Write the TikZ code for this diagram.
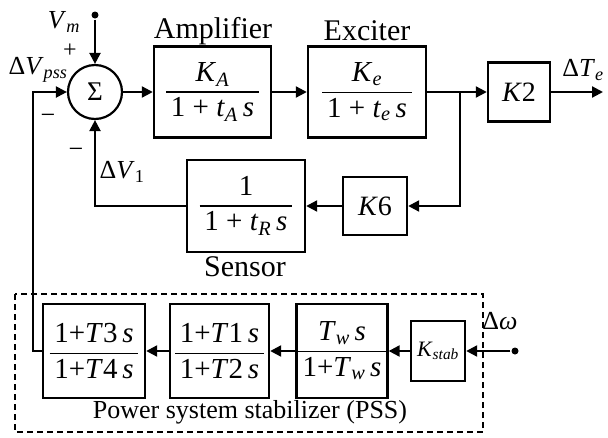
\documentclass[tikz,border=0pt]{standalone}
\usepackage{amsmath}
\usepackage{fontspec}
\setmainfont{Liberation Serif}
\usetikzlibrary{arrows.meta}
\newcommand{\sbi}[2]{\textit{#1}\textsubscript{\textit{#2}}}
\newcommand{\frc}[2]{$\genfrac{}{}{1.6pt}{0}{\text{#1}}{\text{\,#2\,}}$}
\begin{document}
\begin{tikzpicture}[x=1pt,y=-1pt,
  line width=2.2pt,
  arr/.style={-{Triangle[length=11pt,width=11pt]}},
  blk/.style={draw,line width=2.4pt,inner sep=0pt,font=\fontsize{29}{33}\selectfont},
  kblk/.style={blk,font=\fontsize{28}{32}\selectfont},
  lbl/.style={inner sep=0pt,font=\fontsize{26}{30}\selectfont},
  big/.style={inner sep=0pt,font=\fontsize{30}{34}\selectfont},
  dot/.style={circle,fill,inner sep=0pt,minimum size=7pt}]
\useasboundingbox (0,0) rectangle (608,437);
% main loop
\node[draw,circle,line width=2.2pt,minimum size=54pt,inner sep=0pt,font=\fontsize{27}{30}\selectfont] (sum) at (95,92) {Σ};
\node[dot] (vm) at (95,15) {};
\node[blk,minimum width=117pt,minimum height=91pt] (amp) at (212.5,92) {\frc{\sbi{K}{A}}{1 + \sbi{t}{A}\,\textit{s}}};
\node[blk,minimum width=118pt,minimum height=91pt] (exc) at (367,92) {\frc{\sbi{K}{e}}{1 + \sbi{t}{e}\,\textit{s}}};
\node[kblk,minimum width=62pt,minimum height=59pt] (k2) at (519,92) {\textit{K}2};
\node[kblk,minimum width=64pt,minimum height=58pt] (k6) at (375,206) {\textit{K}6};
\node[blk,minimum width=118pt,minimum height=92pt] (sen) at (246,206) {\frc{1}{1 + \sbi{t}{R}\,\textit{s}}};
\coordinate (br) at (460,92);
\coordinate (out) at (603,92);
% PSS
\node[blk,minimum width=102pt,minimum height=94pt] (p1) at (94,351) {\frc{1+\textit{T}3\,\textit{s}}{1+\textit{T}4\,\textit{s}}};
\node[blk,minimum width=99pt,minimum height=94pt] (p2) at (219.5,351) {\frc{1+\textit{T}1\,\textit{s}}{1+\textit{T}2\,\textit{s}}};
\node[blk,minimum width=90pt,minimum height=94pt] (p3) at (342,351) {\frc{\sbi{T}{w}\,\textit{s}}{1+\sbi{T}{w}\,\textit{s}}};
\node[blk,minimum width=54pt,minimum height=60pt,font=\fontsize{22}{26}\selectfont] (ks) at (438,351) {\sbi{K}{stab}};
\node[dot] (win) at (515,351) {};
\coordinate (fb) at (33,92);
\draw[dashed,dash pattern=on 6pt off 4pt,line width=1.3pt] (15,294) rectangle (483,432);
% connectors
\draw[arr] (vm) -- (sum.north);
\draw[arr] (sum.east) -- (amp.west);
\draw[arr] (amp.east) -- (exc.west);
\draw (exc.east) -- (br);
\draw[arr] (br) -- (k2.west);
\draw[arr] (k2.east) -- (out);
\draw[arr] (br) |- (k6.east);
\draw[arr] (k6.west) -- (sen.east);
\draw[arr] (sen.west) -| (sum.south);
\draw[arr] (win) -- (ks.east);
\draw[arr] (ks.west) -- (p3.east);
\draw[arr] (p3.west) -- (p2.east);
\draw[arr] (p2.west) -- (p1.east);
\draw[arr] (p1.west) -| (fb) -- (sum.west);
% labels
\node[big] (lamp) at (213,31) {Amplifier};
\node[big] (lexc) at (367,31) {Exciter};
\node[big] (lsen) at (245,267) {Sensor};
\node[lbl] (lpss) at (250,412) {Power system stabilizer (PSS)};
\node[lbl] (lvm) at (64,22) {\sbi{V}{m}};
\node[lbl,font=\fontsize{24}{28}\selectfont] (lplus) at (70,51) {+};
\node[lbl] (lvpss) at (38,70) {Δ\sbi{V}{pss}};
\node[lbl] (lm1) at (48,119) {−};
\node[lbl] (lm2) at (76,153) {−};
\node[lbl] (lv1) at (122,172) {Δ\textit{V}\textsubscript{1}};
\node[lbl] (lte) at (583,70) {Δ\sbi{T}{e}};
\node[lbl] (lw) at (500,321) {Δ\textit{ω}};
\end{tikzpicture}
\end{document}
